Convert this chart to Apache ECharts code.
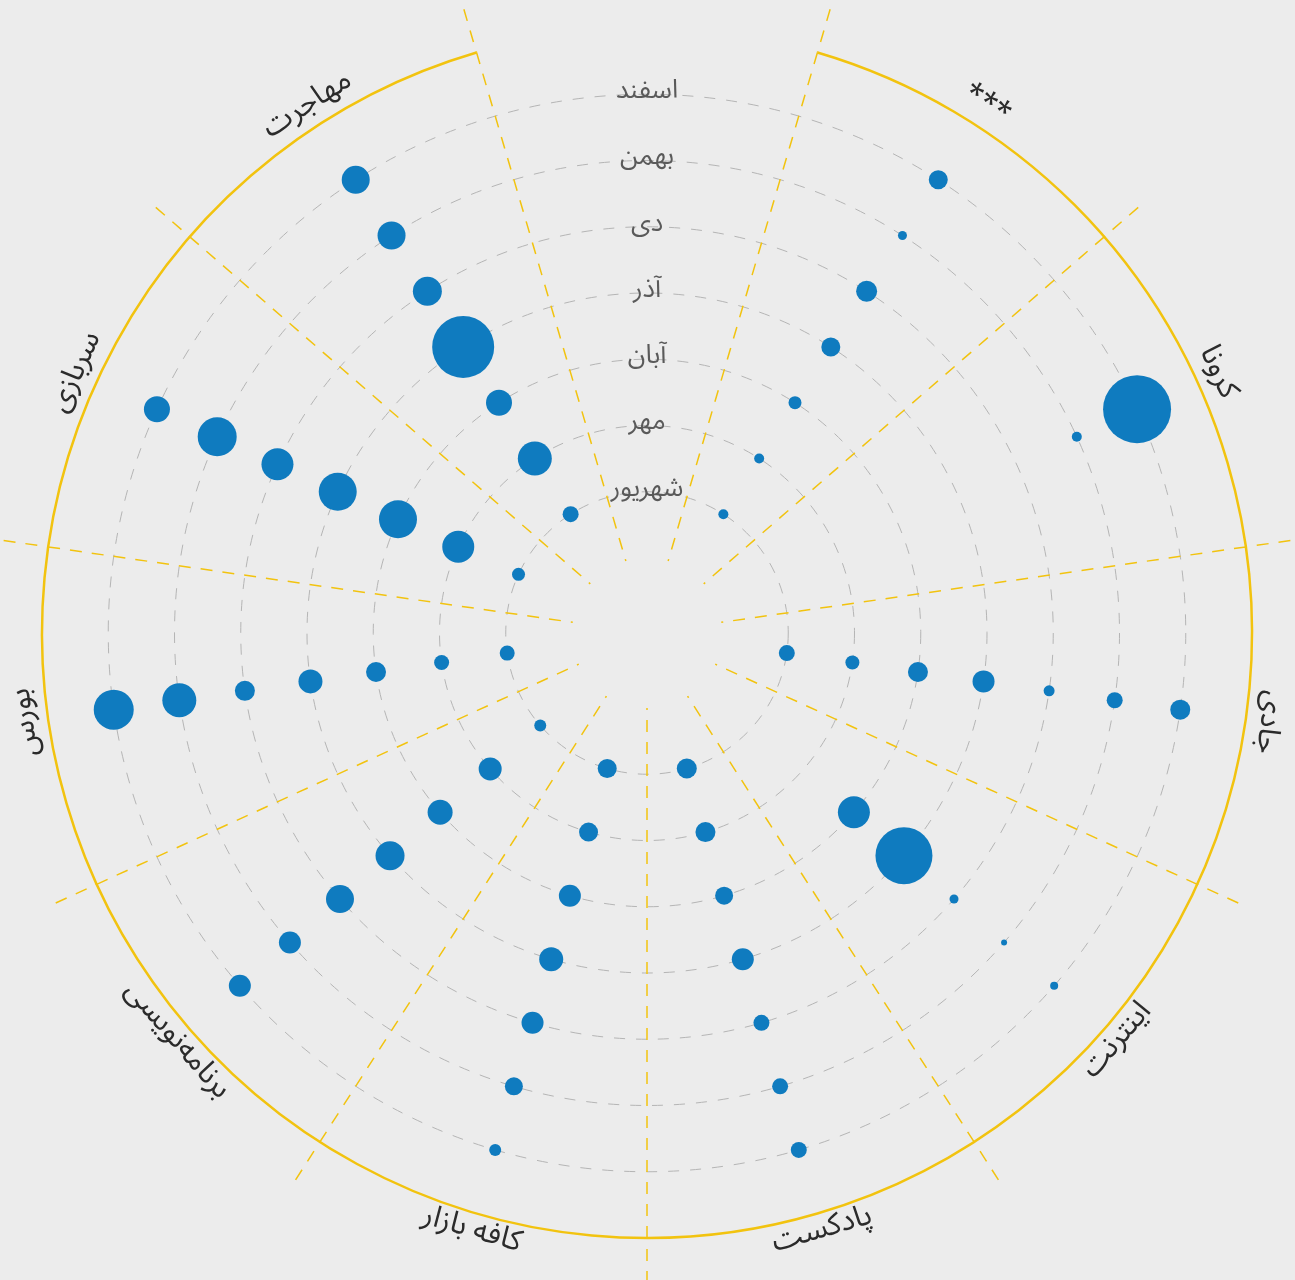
<!DOCTYPE html>
<html><head><meta charset="utf-8">
<script src="https://cdn.jsdelivr.net/npm/echarts@6/dist/echarts.min.js"></script>
<style>html,body{margin:0;padding:0;background:#ececec}#c{width:1295px;height:1280px}</style>
</head><body><div id="c"></div>
<script>
const categories = ['مهاجرت', 'سربازی', 'بورس', 'برنامه‌نویسی', 'کافه بازار', 'پادکست', 'اینترنت', 'جادی', 'کرونا', '***'];
const months = ['شهریور', 'مهر', 'آبان', 'آذر', 'دی', 'بهمن', 'اسفند'];
// values per category, months in order شهریور → اسفند
const mohajerat = [8, 17, 13, 31, 14.5, 14, 14];
const sarbazi = [6.5, 16, 19, 19, 16, 19.5, 13];
const bourse = [7.5, 7.5, 10, 12, 10, 17, 20];
const barnamenevisi = [6, 11.5, 12.5, 14.5, 14, 11, 11];
const cafebazaar = [9.5, 9.5, 11, 12, 11, 9, 6];
const podcast = [10, 10, 9, 11, 8, 8, 8];
const internet = [0, 0, 16, 28.5, 4.5, 3, 4];
const jadi = [8, 7, 10, 11, 5.5, 8, 10];
const corona = [0, 0, 0, 0, 0, 5, 34];
const stars = [5, 5, 6.5, 9.5, 10.5, 4.5, 9.5];

const seriesByCategory = [mohajerat, sarbazi, bourse, barnamenevisi, cafebazaar, podcast, internet, jadi, corona, stars];
const points = [];
seriesByCategory.forEach((vals, ci) => vals.forEach((v, mi) => points.push([mi, ci, v])));

const YELLOW = '#f2c30f';
const FONT = "'Noto Sans Arabic', 'Noto Sans', sans-serif";
const CX = 647, CY = 633, R0 = 75, R1 = 605;
const UNIT = (R1 - R0) / 8;
const band = 360 / (categories.length + 1);
const startAngle = 90 + band / 2;
const endAngle = 90 - band / 2 + 360;

const chart = echarts.init(document.getElementById('c'));
chart.setOption({
  backgroundColor: '#ececec',
  animation: false,
  polar: [
    { center: [CX, CY], radius: [0, R1] },
    { center: [CX, CY], radius: [R0, R1] },
    { center: [CX, CY], radius: [R0 + UNIT, R1 - UNIT] }
  ],
  angleAxis: [
    {
      polarIndex: 0, type: 'category', data: categories, boundaryGap: true,
      startAngle: startAngle, endAngle: endAngle, clockwise: false, z: 2,
      axisLine: { show: true, lineStyle: { color: YELLOW, width: 2.5 } },
      axisTick: { show: true, length: 45, lineStyle: { color: YELLOW, width: 1.5, type: [12, 10] } },
      splitLine: { show: false },
      axisLabel: { show: false }
    },
    {
      polarIndex: 1, type: 'category', data: categories, boundaryGap: true,
      startAngle: startAngle, endAngle: endAngle, clockwise: false, z: 2,
      axisLine: { show: false }, axisTick: { show: false },
      splitLine: { show: true, lineStyle: { color: YELLOW, width: 1.5, type: [12, 10] } },
      axisLabel: { show: false }
    },
    { polarIndex: 2, type: 'value', min: 0, max: 360, startAngle: 90, show: false }
  ],
  radiusAxis: [
    { polarIndex: 0, type: 'value', min: -1, max: 7, show: false },
    { polarIndex: 1, type: 'value', min: -1, max: 7, show: false },
    {
      polarIndex: 2, type: 'category', data: months, boundaryGap: false, z: 1,
      axisLine: { show: false }, axisTick: { show: false },
      splitLine: { show: true, interval: 0, lineStyle: { color: '#b5b5b5', width: 1, type: [11, 11] } },
      axisLabel: { interval: 0, color: '#5a5a5a', fontSize: 26, margin: 0, align: 'center', verticalAlign: 'middle', padding: [0, 0, 16, 0], fontFamily: FONT }
    }
  ],
  series: [
    {
      type: 'scatter', coordinateSystem: 'polar', polarIndex: 1, z: 5,
      data: points,
      symbolSize: v => v[2] * 2,
      itemStyle: { color: '#0f7bbf', opacity: 1 }
    },
    {
      type: 'custom', coordinateSystem: 'polar', polarIndex: 1, z: 6, silent: true,
      data: categories.map((c, i) => [7.3, i]),
      renderItem: function (params, api) {
        const p = api.coord([api.value(0), api.value(1)]);
        const cs = params.coordSys;
        const ang = Math.atan2(cs.cy - p[1], p[0] - cs.cx) * 180 / Math.PI;
        let rot = ang - 90;
        while (rot > 180) rot -= 360;
        while (rot <= -180) rot += 360;
        if (rot > 115) rot -= 180;
        if (rot < -115) rot += 180;
        return {
          type: 'text', x: p[0], y: p[1], rotation: rot * Math.PI / 180,
          style: { text: categories[params.dataIndex], fill: '#2b2b2b', font: '30px ' + FONT, align: 'center', verticalAlign: 'middle' }
        };
      }
    }
  ]
});
</script></body></html>
